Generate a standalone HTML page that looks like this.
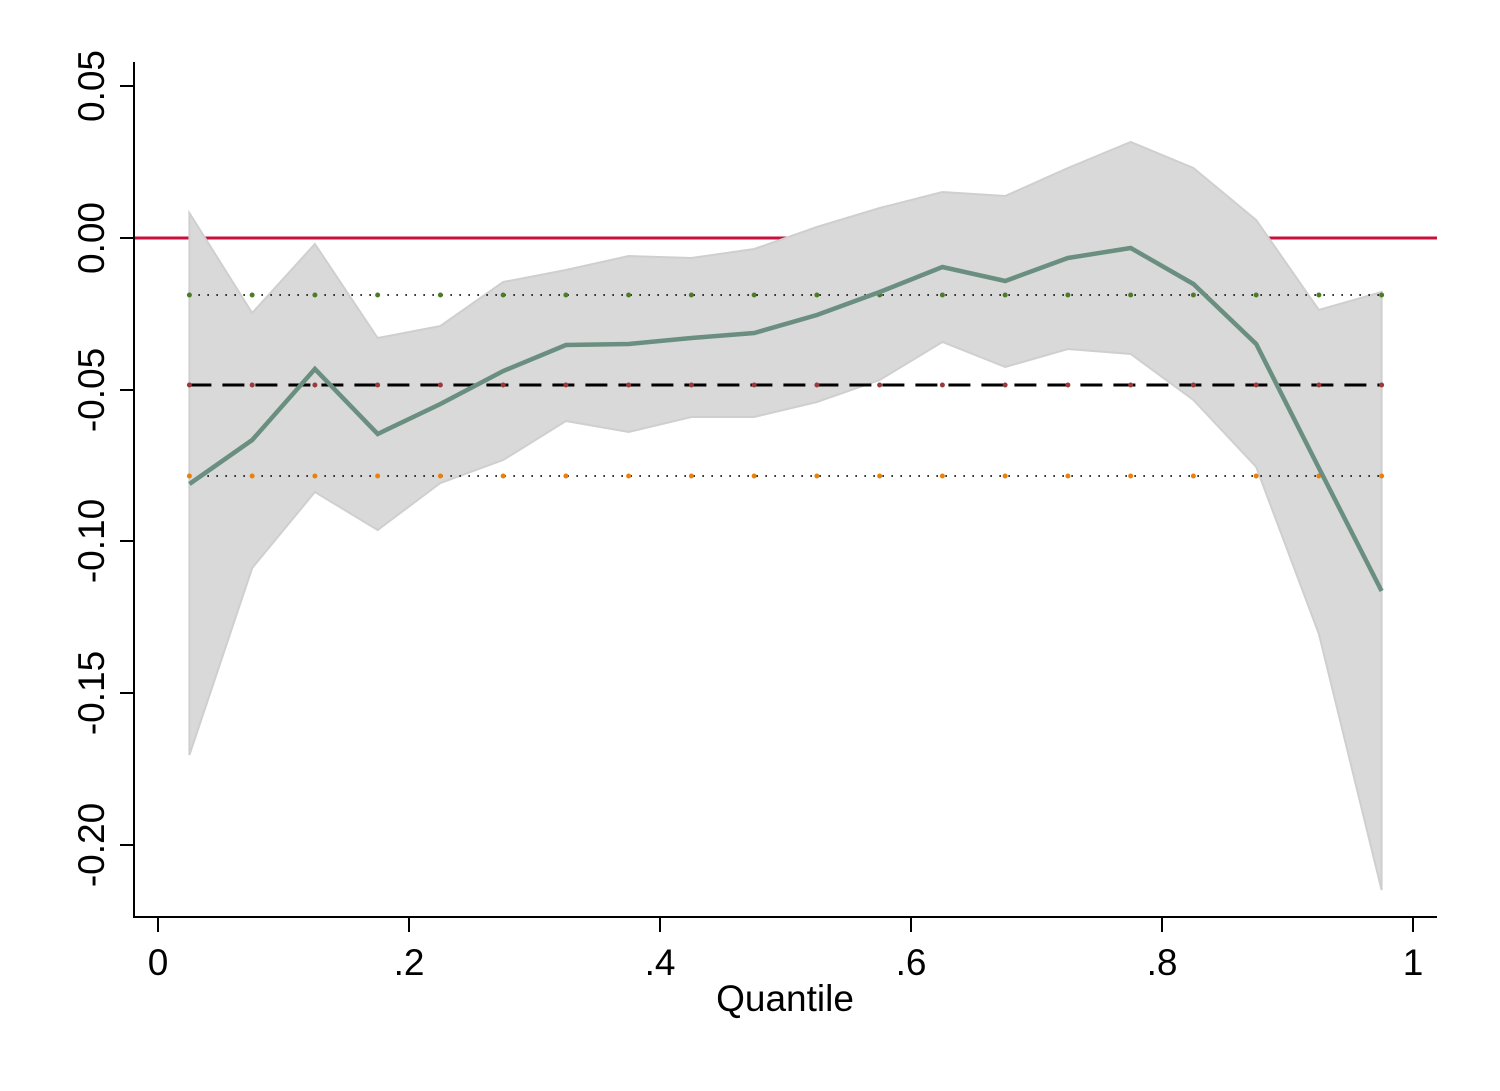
<!DOCTYPE html>
<html><head><meta charset="utf-8"><style>html,body{margin:0;padding:0;background:#fff}svg{display:block}</style></head>
<body>
<svg width="1500" height="1091" viewBox="0 0 1500 1091" xmlns="http://www.w3.org/2000/svg" font-family="Liberation Sans, Arial, sans-serif">
<rect width="1500" height="1091" fill="#fff"/>
<line x1="134" y1="238" x2="1437" y2="238" stroke="#c8103e" stroke-width="3"/>
<polygon fill="#d9d9d9" stroke="#cfcfcf" stroke-width="2" points="189.4,213 252.2,313 314.9,244 377.7,338 440.4,326 503.2,282 565.9,270 628.7,256 691.4,258 754.2,249 816.9,227 879.7,208 942.4,192 1005.2,196 1067.9,168 1130.7,142 1193.4,168 1256.2,220 1318.9,310 1381.6,292 1381.6,890 1318.9,634 1256.2,467 1193.4,400 1130.7,354 1067.9,349 1005.2,367 942.4,342 879.7,380 816.9,402 754.2,417 691.4,417 628.7,432 565.9,421 503.2,460 440.4,483 377.7,530 314.9,492 252.2,568 189.4,755"/>
<line x1="189.4" y1="295" x2="1381.6" y2="295" stroke="#222" stroke-width="2" stroke-dasharray="1.5 7.5"/>
<line x1="189.4" y1="476" x2="1381.6" y2="476" stroke="#222" stroke-width="2" stroke-dasharray="1.5 7.5"/>
<line x1="189.4" y1="385" x2="1381.6" y2="385" stroke="#000" stroke-width="3" stroke-dasharray="22 11"/>
<line x1="189.4" y1="295" x2="1382" y2="295" stroke="#4f7a28" stroke-width="5" stroke-linecap="round" stroke-dasharray="0 62.75"/>
<line x1="189.4" y1="385" x2="1382" y2="385" stroke="#9a3a3a" stroke-width="5" stroke-linecap="round" stroke-dasharray="0 62.75"/>
<line x1="189.4" y1="476" x2="1382" y2="476" stroke="#e8820c" stroke-width="5" stroke-linecap="round" stroke-dasharray="0 62.75"/>
<polyline fill="none" stroke="#6a8f80" stroke-width="4.5" points="189.4,484 252.2,440 314.9,369 377.7,434 440.4,404 503.2,371 565.9,345 628.7,344 691.4,338 754.2,333 816.9,315 879.7,292 942.4,267 1005.2,281 1067.9,258 1130.7,248 1193.4,284 1256.2,344 1318.9,468 1381.6,591"/>
<g stroke="#000" stroke-width="2">
<line x1="134" y1="62" x2="134" y2="918"/>
<line x1="133" y1="917" x2="1437" y2="917"/>
<line x1="120" y1="86" x2="134" y2="86"/>
<line x1="120" y1="238" x2="134" y2="238"/>
<line x1="120" y1="390" x2="134" y2="390"/>
<line x1="120" y1="541" x2="134" y2="541"/>
<line x1="120" y1="693" x2="134" y2="693"/>
<line x1="120" y1="845" x2="134" y2="845"/>
<line x1="158" y1="917" x2="158" y2="932"/>
<line x1="409" y1="917" x2="409" y2="932"/>
<line x1="660" y1="917" x2="660" y2="932"/>
<line x1="911" y1="917" x2="911" y2="932"/>
<line x1="1162" y1="917" x2="1162" y2="932"/>
<line x1="1413" y1="917" x2="1413" y2="932"/>
</g>
<g font-size="37" fill="#000" text-anchor="middle">
<text transform="translate(104,86) rotate(-90)">0.05</text>
<text transform="translate(104,238) rotate(-90)">0.00</text>
<text transform="translate(104,390) rotate(-90)">-0.05</text>
<text transform="translate(104,541) rotate(-90)">-0.10</text>
<text transform="translate(104,693) rotate(-90)">-0.15</text>
<text transform="translate(104,845) rotate(-90)">-0.20</text>
<text x="158" y="975">0</text>
<text x="409" y="975">.2</text>
<text x="660" y="975">.4</text>
<text x="911" y="975">.6</text>
<text x="1162" y="975">.8</text>
<text x="1413" y="975">1</text>
<text x="785" y="1011">Quantile</text>
</g>
</svg>
</body></html>
